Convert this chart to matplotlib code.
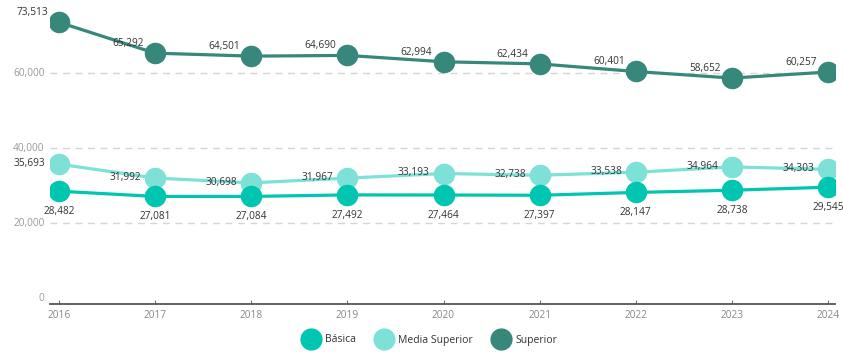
import matplotlib.pyplot as plt
from matplotlib.lines import Line2D
from matplotlib.ticker import FuncFormatter

plt.rcParams['font.family'] = ['Open Sans', 'DejaVu Sans']

years = [2016, 2017, 2018, 2019, 2020, 2021, 2022, 2023, 2024]
basica = [28482, 27081, 27084, 27492, 27464, 27397, 28147, 28738, 29545]
media_superior = [35693, 31992, 30698, 31967, 33193, 32738, 33538, 34964, 34303]
superior = [73513, 65292, 64501, 64690, 62994, 62434, 60401, 58652, 60257]

series_names = ['Básica', 'Media Superior', 'Superior']
colores = ['#00C5B1', '#7DE1D7', '#37877A']

fig = plt.figure(figsize=(8.43, 3.52), dpi=100)
ax = fig.add_axes([50 / 843, 48 / 352, 785 / 843, 304 / 352])

# etiquetas: (alineacion, desplazamiento en puntos, orden de dibujo)
estilos = [('center', (0, -14.5), 4), ('right', (-10, 0.5), 3), ('right', (-8, 7), 3)]

for datos, nombre, color, (ha, off, z) in zip([basica, media_superior, superior],
                                              series_names, colores, estilos):
    ax.plot(years, datos, color=color, lw=2.3, marker='o', markersize=15.5,
            markeredgewidth=0, label=nombre, zorder=z)
    for x, y in zip(years, datos):
        ax.annotate(f'{y:,}', (x, y), xytext=off, textcoords='offset points',
                    ha=ha, va='center', fontsize=7.3, color='#333333', zorder=5)

ax.set_xlim(2016 - 0.094, 2024 + 0.073)
ax.set_ylim(-1600, 79467)
ax.set_yticks([0, 20000, 40000, 60000])
ax.yaxis.set_major_formatter(FuncFormatter(lambda v, p: f'{int(v):,}'))
ax.set_xticks(years)

# lineas guia punteadas (sin la de cero)
for g in [20000, 40000, 60000]:
    ax.axhline(g, color='#d5d5d5', linestyle=(0, (5, 4)), lw=1, zorder=1)

for s in ['top', 'right', 'left']:
    ax.spines[s].set_visible(False)
ax.spines['bottom'].set_color('#555555')
ax.spines['bottom'].set_linewidth(1.3)
ax.tick_params(axis='y', length=0, labelsize=7.3, labelcolor='#999999', pad=4)
ax.tick_params(axis='x', length=3, direction='in', color='#777777', labelsize=7.3,
               labelcolor='#888888', pad=4)
for lbl in ax.get_yticklabels():
    lbl.set_verticalalignment('center')

handles = [Line2D([], [], ls='none', marker='o', markersize=16, color=c,
                  markeredgewidth=0) for c in colores]
fig.legend(handles, series_names, loc='center', bbox_to_anchor=(430 / 843, 1 - 340 / 352),
           ncol=3, frameon=False, fontsize=7.5, handletextpad=0.55, columnspacing=1.9,
           handlelength=1.6, labelcolor='#333333')

fig.savefig('out.png', dpi=100)
